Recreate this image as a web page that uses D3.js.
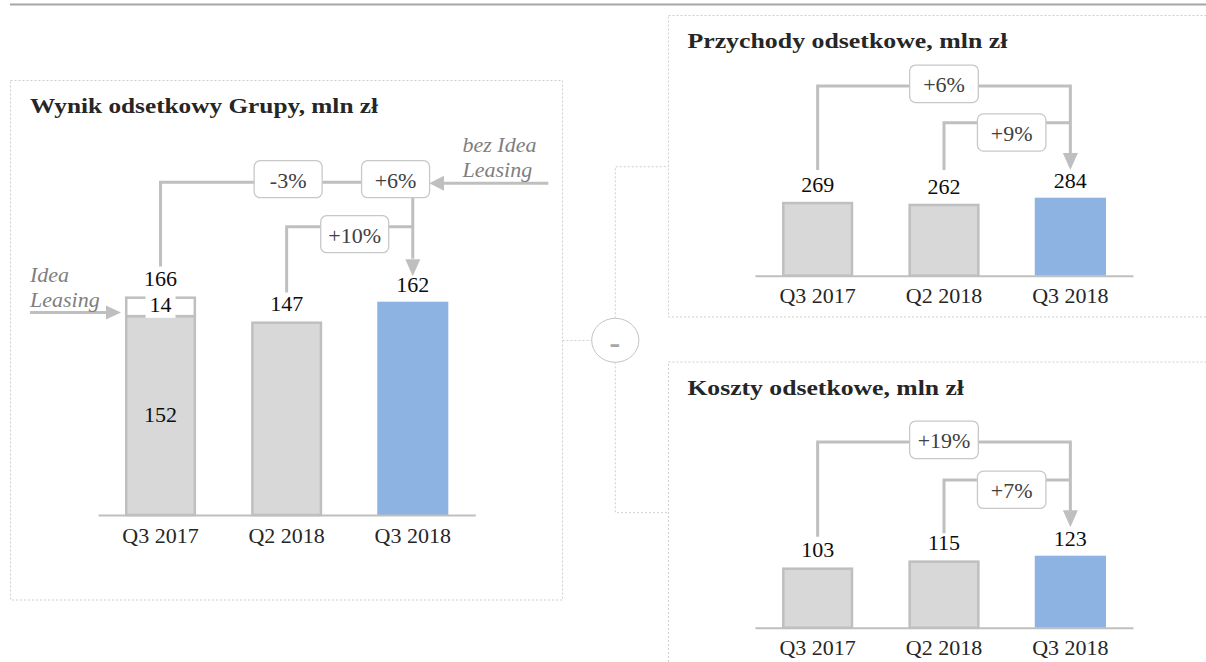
<!DOCTYPE html>
<html>
<head>
<meta charset="utf-8">
<script src="https://cdn.jsdelivr.net/npm/d3@7/dist/d3.min.js"></script>
<style>
  html, body { margin: 0; padding: 0; background: #ffffff; }
  svg { display: block; }
  text { font-family: 'Liberation Serif', 'Times New Roman', serif; }
</style>
</head>
<body>
<svg id="chart" width="1206" height="662"></svg>
<script>
// ---------- data ----------
const categories = ["Q3 2017", "Q2 2018", "Q3 2018"];

const groupTotal = [166, 147, 162];
const groupCore = [152, 147, 162];
const ideaLeasing = [14, 0, 0];
const groupChangeLabels = ["-3%", "+6%", "+10%"];
const groupTitle = "Wynik odsetkowy Grupy, mln zł";
const bezIdeaLabel = ["bez Idea", "Leasing"];
const ideaLabel = ["Idea", "Leasing"];

const incomeValues = [269, 262, 284];
const incomeChangeLabels = ["+6%", "+9%"];
const incomeTitle = "Przychody odsetkowe, mln zł";

const costValues = [103, 115, 123];
const costChangeLabels = ["+19%", "+7%"];
const costTitle = "Koszty odsetkowe, mln zł";

const minusSign = "-";

// ---------- styles ----------
const GRAY_FILL = "#d8d8d8";
const GRAY_STROKE = "#bfbfbf";
const BLUE = "#8db3e2";
const LINE = "#bfbfbf";
const BOX_STROKE = "#c8c8c8";
const DASH = "#cfcfcf";
const FS = 22;

const svg = d3.select("#chart");

// top rule
svg.append("line").attr("x1", 10).attr("x2", 1206).attr("y1", 4.5).attr("y2", 4.5)
  .attr("stroke", "#a6a6a6").attr("stroke-width", 2);

// panel borders
function dashedRect(x, y, w, h) {
  svg.append("rect").attr("x", x).attr("y", y).attr("width", w).attr("height", h)
    .attr("fill", "none").attr("stroke", DASH).attr("stroke-width", 1)
    .attr("stroke-dasharray", "2,2");
}
dashedRect(10.5, 80.5, 552, 519.5);
dashedRect(668.5, 15.5, 560, 301.5);
dashedRect(668.5, 362, 560, 320);

// connectors
const conn = svg.append("g").attr("fill", "none").attr("stroke", DASH)
  .attr("stroke-width", 1).attr("stroke-dasharray", "2,2");
conn.append("path").attr("d", "M562.5,340.5 H591.7");
conn.append("path").attr("d", "M615.3,318.3 V166.7 H668.5");
conn.append("path").attr("d", "M615.3,362.3 V512.7 H668.5");
svg.append("ellipse").attr("cx", 615.3).attr("cy", 340.3).attr("rx", 23.6).attr("ry", 22)
  .attr("fill", "#fff").attr("stroke", "#c4c4c4").attr("stroke-width", 1);
svg.append("text").attr("x", 614.8).attr("y", 352.8).attr("text-anchor", "middle")
  .attr("font-family", "'Liberation Sans', Arial, sans-serif").attr("font-weight", "bold")
  .attr("font-size", 32).attr("fill", "#a6a6a6").text(minusSign);

// ---------- helpers ----------
function title(txt, x, y, w) {
  svg.append("text").attr("x", x).attr("y", y).attr("font-size", FS).attr("font-weight", "bold")
    .attr("fill", "#262626").attr("textLength", w).attr("lengthAdjust", "spacingAndGlyphs")
    .text(txt);
}
function label(g, txt, x, y, opts = {}) {
  return g.append("text").attr("x", x).attr("y", y).attr("text-anchor", opts.anchor || "middle")
    .attr("font-size", opts.size || FS).attr("fill", opts.fill || "#0d0d0d")
    .attr("font-style", opts.italic ? "italic" : null).text(txt);
}
function box(g, txt, cx, cy, w, h) {
  g.append("rect").attr("x", cx - w / 2).attr("y", cy - h / 2).attr("width", w).attr("height", h)
    .attr("rx", 6).attr("fill", "#fff").attr("stroke", BOX_STROKE).attr("stroke-width", 1.3);
  label(g, txt, cx, cy + 8.5, { fill: "#404040" });
}
function arrowDown(g, x, tipY) {
  g.append("path").attr("d", `M${x - 7.5},${tipY - 17} L${x + 7.5},${tipY - 17} L${x},${tipY} Z`)
    .attr("fill", LINE);
}
function xScale(r0, r1) {
  return d3.scaleBand().domain(categories).range([r0, r1]).paddingInner(0.4365).paddingOuter(0.214);
}
function drawAxis(g, x, baseY) {
  const ax = g.append("g").attr("transform", `translate(0,${baseY})`)
    .call(d3.axisBottom(x).tickSize(0).tickSizeOuter(0));
  ax.select(".domain").attr("stroke", GRAY_STROKE).attr("stroke-width", 2);
  ax.selectAll("text").attr("y", 27.5).attr("dy", null).attr("font-size", FS)
    .attr("fill", "#262626").attr("font-family", "'Liberation Serif', 'Times New Roman', serif");
}
function drawBars(g, x, y, values) {
  const bw = x.bandwidth();
  g.selectAll("rect.bar").data(values).join("rect").attr("class", "bar")
    .attr("x", (d, i) => i === 2 ? x(categories[i]) : x(categories[i]) + 1.25)
    .attr("width", (d, i) => i === 2 ? bw : bw - 2.5)
    .attr("y", (d, i) => i === 2 ? y(d) : y(d) + 1.25)
    .attr("height", (d, i) => i === 2 ? y(0) - y(d) : y(0) - y(d) - 1.25)
    .attr("fill", (d, i) => i === 2 ? BLUE : GRAY_FILL)
    .attr("stroke", (d, i) => i === 2 ? "none" : GRAY_STROKE)
    .attr("stroke-width", 2.5);
}
const cx = (x, i) => x(categories[i]) + x.bandwidth() / 2;

// ---------- left panel ----------
{
  const g = svg.append("g");
  title(groupTitle, 30, 113, 348);
  const x = xScale(98, 475.3);
  const y = d3.scaleLinear().domain([0, 162]).range([515, 301.7]);
  drawBars(g, x, y, groupCore);
  // Idea Leasing segment
  const bw = x.bandwidth();
  g.selectAll("rect.seg").data(ideaLeasing.filter(v => v > 0)).join("rect").attr("class", "seg")
    .attr("x", x(categories[0]) + 1.25).attr("width", bw - 2.5)
    .attr("y", (d) => y(groupCore[0] + d) + 1.25)
    .attr("height", (d) => y(groupCore[0]) - y(groupCore[0] + d))
    .attr("fill", "#fff").attr("stroke", GRAY_STROKE).attr("stroke-width", 2.5);
  drawAxis(g, x, 515);

  // labels
  const c0 = cx(x, 0), c1 = cx(x, 1), c2 = cx(x, 2);
  groupTotal.forEach((v, i) => label(g, v, cx(x, i), y(v) - 10));
  const segMid = (y(groupCore[0]) + y(groupTotal[0])) / 2;
  g.append("rect").attr("x", c0 - 15).attr("y", y(groupTotal[0]) - 1).attr("width", 30)
    .attr("height", y(groupCore[0]) - y(groupTotal[0]) + 4).attr("fill", "#fff");
  label(g, ideaLeasing[0], c0, segMid + 6.5);
  label(g, groupCore[0], c0, (y(groupCore[0]) + y(0)) / 2 + 7);

  // brackets
  const lines = g.append("g").attr("fill", "none").attr("stroke", LINE).attr("stroke-width", 3);
  lines.append("path").attr("d", `M${c0},${y(groupTotal[0]) - 30} V182.3 H362`);
  lines.append("path").attr("d", `M${c1},${y(groupTotal[1]) - 29} V226.7 H${c2}`);
  lines.append("path").attr("d", `M${c2},197.7 V${y(groupTotal[2]) - 26 - 17}`);
  lines.append("path").attr("d", `M548.3,183.3 H440`);
  arrowDown(g, c2, y(groupTotal[2]) - 25.5);
  g.append("path").attr("d", `M429.3,183.3 L444,175.8 L444,190.8 Z`).attr("fill", LINE);
  box(g, groupChangeLabels[0], c1 + 1.5, 179.2, 68, 37);
  box(g, groupChangeLabels[1], c2 - 17.2, 179.2, 68, 37);
  box(g, groupChangeLabels[2], (c1 + c2) / 2 + 5, 234.2, 68, 37);

  // side notes
  label(g, bezIdeaLabel[0], 462.5, 152, { anchor: "start", italic: true, fill: "#7f7f7f" });
  label(g, bezIdeaLabel[1], 462.5, 177.3, { anchor: "start", italic: true, fill: "#7f7f7f" });
  label(g, ideaLabel[0], 30, 282, { anchor: "start", italic: true, fill: "#7f7f7f" });
  label(g, ideaLabel[1], 30, 306.5, { anchor: "start", italic: true, fill: "#7f7f7f" });
  lines.append("path").attr("d", "M30,312.5 H107");
  g.append("path").attr("d", "M121,312.5 L106,305.5 L106,319.5 Z").attr("fill", LINE);
}

// ---------- right panels ----------
function rightPanel(values, changeLabels, ttl, titleY, titleW, baseY, topY, lv1, lv2, ends) {
  const g = svg.append("g");
  title(ttl, 687.4, titleY, titleW);
  const x = xScale(755, 1133);
  const y = d3.scaleLinear().domain([0, values[2]]).range([baseY, topY]);
  drawBars(g, x, y, values);
  drawAxis(g, x, baseY);
  values.forEach((v, i) => label(g, v, cx(x, i), y(v) - 10));
  const c0 = cx(x, 0), c1 = cx(x, 1), c2 = cx(x, 2);
  const lines = g.append("g").attr("fill", "none").attr("stroke", LINE).attr("stroke-width", 3);
  lines.append("path").attr("d", `M${c0},${ends[0]} V${lv1} H${c2} V${ends[2] - 16}`);
  lines.append("path").attr("d", `M${c1},${ends[1]} V${lv2} H${c2}`);
  arrowDown(g, c2, ends[2]);
  box(g, changeLabels[0], c1, lv1 - 2.2, 68.7, 37.5);
  box(g, changeLabels[1], (c1 + c2) / 2 + 4.5, lv2 + 9.8, 68.5, 37.3);
}
rightPanel(incomeValues, incomeChangeLabels, incomeTitle, 48.3, 320, 275.7, 197.7, 86, 122.7, [170, 170, 170]);
rightPanel(costValues, costChangeLabels, costTitle, 395, 276.6, 627.8, 555.7, 442, 480, [536.7, 533.3, 527.3]);
</script>
</body>
</html>
